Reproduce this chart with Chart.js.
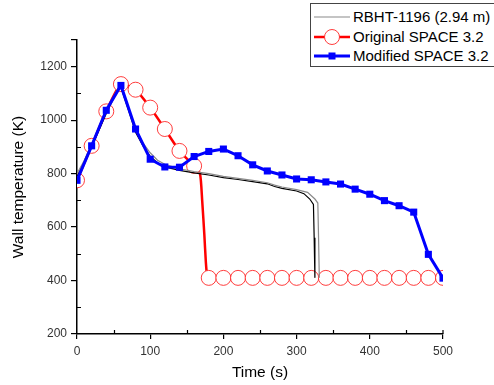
<!DOCTYPE html>
<html>
<head>
<meta charset="utf-8">
<script src="https://cdn.jsdelivr.net/npm/chart.js@4/dist/chart.umd.min.js"></script>
<style>
  html, body { margin: 0; padding: 0; background: #fff; }
  #wrap { position: relative; width: 494px; height: 385px; overflow: hidden; }
  #legend {
    position: absolute; left: 310px; top: 3px; width: 200px; height: 62px;
    border: 1px solid #444; background: #fff;
    font-family: "Liberation Sans", Arial, sans-serif; font-size: 15px; color: #000;
  }
  .row { position: absolute; left: 2px; height: 20px; line-height: 20px; white-space: nowrap; }
  .row svg { position: absolute; left: 0; top: 2px; }
  .row span { position: absolute; left: 40px; top: 0; }
</style>
</head>
<body>
<div id="wrap">
  <canvas id="myChart" width="494" height="385"></canvas>
  <div id="legend"></div>
</div>
<script>
// RBHT-1196 measurement (two thermocouple traces)
const rbhtTimeA = [0, 10, 20, 40, 55, 60, 70, 80, 90, 100, 110, 120, 140, 160, 180, 200, 220, 240, 260, 270, 280, 300, 310, 318, 323, 324, 325];
const rbhtTempA = [790, 840, 900, 1025, 1110, 1122, 1040, 955, 905, 865, 840, 825, 812, 803, 795, 785, 778, 770, 762, 752, 745, 735, 725, 705, 685, 560, 410];
const rbhtTimeB = [0, 10, 20, 40, 55, 60, 70, 80, 90, 100, 110, 120, 140, 160, 180, 200, 220, 240, 260, 270, 280, 300, 315, 325, 329, 330, 331];
const rbhtTempB = [800, 850, 910, 1032, 1115, 1128, 1050, 965, 915, 878, 850, 835, 818, 808, 800, 790, 782, 775, 766, 757, 750, 740, 730, 705, 690, 560, 410];

// Original SPACE 3.2
const origTime = [0, 20, 40, 60, 80, 100, 120, 140, 160, 168, 171, 174, 176, 178, 180, 200, 220, 240, 260, 280, 300, 320, 340, 360, 380, 400, 420, 440, 460, 480, 500];
const origTemp = [775, 904, 1033, 1135, 1114, 1047, 967, 885, 829, 800, 700, 570, 470, 412, 410, 410, 410, 410, 410, 410, 410, 410, 410, 410, 410, 410, 410, 410, 410, 410, 410];

// Modified SPACE 3.2
const modTime = [0, 20, 40, 60, 80, 100, 120, 140, 160, 180, 200, 220, 240, 260, 280, 300, 320, 340, 360, 380, 400, 420, 440, 460, 480, 500];
const modTemp = [775, 904, 1037, 1130, 967, 854, 825, 824, 864, 883, 892, 867, 833, 810, 795, 780, 777, 769, 761, 742, 723, 699, 680, 656, 498, 409];

const xTicks = [0, 100, 200, 300, 400, 500];
const yTicks = [200, 400, 600, 800, 1000, 1200];

function pts(t, v) { return t.map((x, i) => ({ x: x, y: v[i] })); }

const FONT = '"Liberation Sans", Arial, sans-serif';

// minor ticks drawn inward
const minorTicks = {
  id: 'minorTicks',
  afterDraw(chart) {
    const c = chart.ctx, xs = chart.scales.x, ys = chart.scales.y;
    c.save();
    c.strokeStyle = '#000';
    c.lineWidth = 1.2;
    c.beginPath();
    for (let v = 50; v < 500; v += 100) {
      const px = Math.round(xs.getPixelForValue(v)) + 0.5;
      c.moveTo(px, ys.bottom); c.lineTo(px, ys.bottom - 4);
    }
    for (let v = 300; v < 1300; v += 200) {
      const py = Math.round(ys.getPixelForValue(v)) + 0.5;
      c.moveTo(xs.left, py); c.lineTo(xs.left + 4, py);
    }
    // end caps
    const pr = xs.getPixelForValue(500);
    c.moveTo(pr, ys.bottom); c.lineTo(pr, ys.bottom - 4);
    c.stroke();
    c.restore();
  }
};

const ctx = document.getElementById('myChart');
new Chart(ctx, {
  type: 'line',
  data: {
    datasets: [
      {
        label: 'Modified SPACE 3.2',
        data: pts(modTime, modTemp),
        borderColor: '#0000ff',
        backgroundColor: '#0000ff',
        borderWidth: 3,
        pointStyle: 'rect',
        pointRadius: 5,
        pointBorderWidth: 0,
        tension: 0
      },
      {
        label: 'RBHT-1196 (2.94 m)',
        data: pts(rbhtTimeB, rbhtTempB),
        borderColor: '#8a8a8a',
        borderWidth: 1.2,
        pointRadius: 0,
        tension: 0
      },
      {
        label: 'RBHT-1196 b',
        data: pts(rbhtTimeA, rbhtTempA),
        borderColor: '#000',
        borderWidth: 1.2,
        pointRadius: 0,
        tension: 0
      },
      {
        label: 'Original SPACE 3.2',
        data: pts(origTime, origTemp),
        borderColor: '#ff0000',
        borderWidth: 2.5,
        pointStyle: 'circle',
        pointRadius: c => (c.raw && c.raw.x % 20 === 0 ? 7.5 : 0),
        pointBorderWidth: 1,
        pointBorderColor: 'rgba(255,40,40,0.9)',
        pointBackgroundColor: '#fff',
        tension: 0.2
      }
    ]
  },
  options: {
    responsive: false,
    animation: false,
    layout: { padding: { top: 40, right: 51, left: 0, bottom: 0 } },
    plugins: { legend: { display: false }, tooltip: { enabled: false } },
    scales: {
      x: {
        type: 'linear', min: 0, max: 500,
        afterFit: s => { s.height = 51; },
        afterBuildTicks: s => { s.ticks = xTicks.map(v => ({ value: v })); },
        ticks: { font: { family: FONT, size: 12 }, color: '#333', padding: 5, maxRotation: 0 },
        grid: { drawOnChartArea: false, drawTicks: true, tickLength: 5, color: '#000', lineWidth: 1.2 },
        border: { color: '#000', width: 1.5 },
        title: { display: true, text: 'Time (s)', font: { family: FONT, size: 15.5 }, color: '#000', padding: { top: 0, bottom: 3 } }
      },
      y: {
        type: 'linear', min: 200, max: 1300,
        afterFit: s => { s.width = 77; },
        afterBuildTicks: s => { s.ticks = yTicks.concat([1300]).map(v => ({ value: v })); },
        ticks: { font: { family: FONT, size: 12 }, color: '#333', padding: 4, callback: v => (v === 1300 ? '' : v) },
        grid: { drawOnChartArea: false, drawTicks: true, tickLength: 6, color: '#000', lineWidth: 1.2 },
        border: { color: '#000', width: 1.5 },
        title: { display: true, text: 'Wall temperature (K)', font: { family: FONT, size: 15.5 }, color: '#000', padding: { top: 9, bottom: 0 } }
      }
    }
  },
  plugins: [minorTicks]
});

// legend (html)
const legendItems = [
  { text: 'RBHT-1196 (2.94 m)', color: '#8a8a8a', width: 1.2, marker: '' },
  { text: 'Original SPACE 3.2', color: '#ff0000', width: 2.5, marker: 'circle' },
  { text: 'Modified SPACE 3.2', color: '#0000ff', width: 3, marker: 'rect' }
];
const lg = document.getElementById('legend');
legendItems.forEach((it, i) => {
  let m = '';
  if (it.marker === 'circle') m = '<circle cx="19" cy="8" r="7.5" fill="#fff" stroke="rgba(255,40,40,0.9)" stroke-width="1"/>';
  if (it.marker === 'rect') m = '<rect x="15.5" y="4.5" width="7" height="7" fill="#0000ff"/>';
  lg.insertAdjacentHTML('beforeend',
    '<div class="row" style="top:' + (3 + i * 19.5) + 'px">' +
    '<svg width="38" height="16"><line x1="1" y1="8" x2="37" y2="8" stroke="' + it.color + '" stroke-width="' + it.width + '"/>' + m + '</svg>' +
    '<span>' + it.text + '</span></div>');
});
</script>
</body>
</html>
